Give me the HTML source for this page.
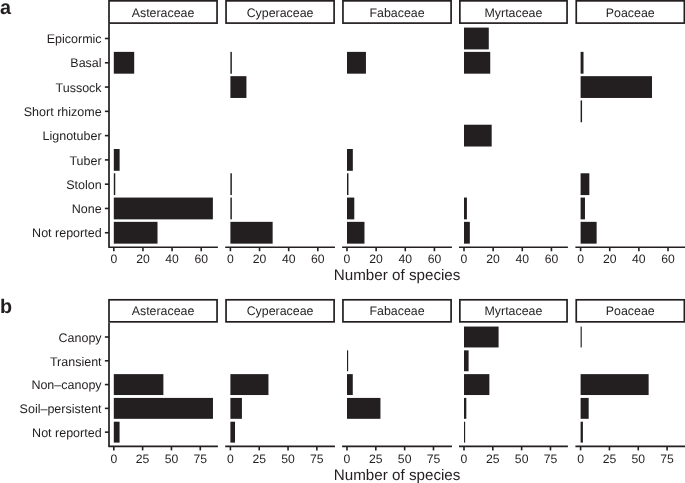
<!DOCTYPE html>
<html><head><meta charset="utf-8"><style>
html,body{margin:0;padding:0;background:#fff;}
svg{display:block;will-change:transform;}
text{font-family:"Liberation Sans",sans-serif;fill:#231f20;text-rendering:geometricPrecision;}
.t{font-size:12.2px;}
.yl{font-size:12.5px;}
.st{font-size:12.4px;}
.tt{font-size:15.2px;}
.lab{font-size:19.8px;font-weight:bold;}
</style></head><body>
<svg width="685" height="483" viewBox="0 0 685 483">
<rect width="685" height="483" fill="#fff"/>
<rect x="109" y="0.85" width="108.05" height="22.25" fill="#fff" stroke="#231f20" stroke-width="1.7"/>
<text x="163.03" y="16.6" text-anchor="middle" class="st">Asteraceae</text>
<rect x="113.8" y="51.88" width="20.4" height="21.8" fill="#231f20"/>
<rect x="113.8" y="149" width="5.83" height="21.8" fill="#231f20"/>
<rect x="113.8" y="173.28" width="1.46" height="21.8" fill="#231f20"/>
<rect x="113.8" y="197.56" width="99.08" height="21.8" fill="#231f20"/>
<rect x="113.8" y="221.84" width="43.71" height="21.8" fill="#231f20"/>
<line x1="113.8" y1="247.25" x2="113.8" y2="251.25" stroke="#231f20" stroke-width="1.6"/>
<text x="113.8" y="263.4" text-anchor="middle" class="t">0</text>
<line x1="142.94" y1="247.25" x2="142.94" y2="251.25" stroke="#231f20" stroke-width="1.6"/>
<text x="142.94" y="263.4" text-anchor="middle" class="t">20</text>
<line x1="172.08" y1="247.25" x2="172.08" y2="251.25" stroke="#231f20" stroke-width="1.6"/>
<text x="172.08" y="263.4" text-anchor="middle" class="t">40</text>
<line x1="201.22" y1="247.25" x2="201.22" y2="251.25" stroke="#231f20" stroke-width="1.6"/>
<text x="201.22" y="263.4" text-anchor="middle" class="t">60</text>
<rect x="226.05" y="0.85" width="108.05" height="22.25" fill="#fff" stroke="#231f20" stroke-width="1.7"/>
<text x="280.07" y="16.6" text-anchor="middle" class="st">Cyperaceae</text>
<rect x="230.4" y="51.88" width="1.46" height="21.8" fill="#231f20"/>
<rect x="230.4" y="76.16" width="16.03" height="21.8" fill="#231f20"/>
<rect x="230.4" y="173.28" width="1.46" height="21.8" fill="#231f20"/>
<rect x="230.4" y="197.56" width="1.46" height="21.8" fill="#231f20"/>
<rect x="230.4" y="221.84" width="42.25" height="21.8" fill="#231f20"/>
<line x1="225.2" y1="247.25" x2="334.95" y2="247.25" stroke="#231f20" stroke-width="1.7"/>
<line x1="230.4" y1="247.25" x2="230.4" y2="251.25" stroke="#231f20" stroke-width="1.6"/>
<text x="230.4" y="263.4" text-anchor="middle" class="t">0</text>
<line x1="259.54" y1="247.25" x2="259.54" y2="251.25" stroke="#231f20" stroke-width="1.6"/>
<text x="259.54" y="263.4" text-anchor="middle" class="t">20</text>
<line x1="288.68" y1="247.25" x2="288.68" y2="251.25" stroke="#231f20" stroke-width="1.6"/>
<text x="288.68" y="263.4" text-anchor="middle" class="t">40</text>
<line x1="317.82" y1="247.25" x2="317.82" y2="251.25" stroke="#231f20" stroke-width="1.6"/>
<text x="317.82" y="263.4" text-anchor="middle" class="t">60</text>
<rect x="342.95" y="0.85" width="108.15" height="22.25" fill="#fff" stroke="#231f20" stroke-width="1.7"/>
<text x="397.02" y="16.6" text-anchor="middle" class="st">Fabaceae</text>
<rect x="347" y="51.88" width="18.94" height="21.8" fill="#231f20"/>
<rect x="347" y="149" width="5.83" height="21.8" fill="#231f20"/>
<rect x="347" y="173.28" width="1.46" height="21.8" fill="#231f20"/>
<rect x="347" y="197.56" width="7.29" height="21.8" fill="#231f20"/>
<rect x="347" y="221.84" width="17.48" height="21.8" fill="#231f20"/>
<line x1="342.1" y1="247.25" x2="451.95" y2="247.25" stroke="#231f20" stroke-width="1.7"/>
<line x1="347" y1="247.25" x2="347" y2="251.25" stroke="#231f20" stroke-width="1.6"/>
<text x="347" y="263.4" text-anchor="middle" class="t">0</text>
<line x1="376.14" y1="247.25" x2="376.14" y2="251.25" stroke="#231f20" stroke-width="1.6"/>
<text x="376.14" y="263.4" text-anchor="middle" class="t">20</text>
<line x1="405.28" y1="247.25" x2="405.28" y2="251.25" stroke="#231f20" stroke-width="1.6"/>
<text x="405.28" y="263.4" text-anchor="middle" class="t">40</text>
<line x1="434.42" y1="247.25" x2="434.42" y2="251.25" stroke="#231f20" stroke-width="1.6"/>
<text x="434.42" y="263.4" text-anchor="middle" class="t">60</text>
<rect x="459.85" y="0.85" width="107.2" height="22.25" fill="#fff" stroke="#231f20" stroke-width="1.7"/>
<text x="513.45" y="16.6" text-anchor="middle" class="st">Myrtaceae</text>
<rect x="464" y="27.6" width="24.77" height="21.8" fill="#231f20"/>
<rect x="464" y="51.88" width="26.23" height="21.8" fill="#231f20"/>
<rect x="464" y="124.72" width="27.68" height="21.8" fill="#231f20"/>
<rect x="464" y="197.56" width="2.91" height="21.8" fill="#231f20"/>
<rect x="464" y="221.84" width="5.83" height="21.8" fill="#231f20"/>
<line x1="459" y1="247.25" x2="567.9" y2="247.25" stroke="#231f20" stroke-width="1.7"/>
<line x1="464" y1="247.25" x2="464" y2="251.25" stroke="#231f20" stroke-width="1.6"/>
<text x="464" y="263.4" text-anchor="middle" class="t">0</text>
<line x1="493.14" y1="247.25" x2="493.14" y2="251.25" stroke="#231f20" stroke-width="1.6"/>
<text x="493.14" y="263.4" text-anchor="middle" class="t">20</text>
<line x1="522.28" y1="247.25" x2="522.28" y2="251.25" stroke="#231f20" stroke-width="1.6"/>
<text x="522.28" y="263.4" text-anchor="middle" class="t">40</text>
<line x1="551.42" y1="247.25" x2="551.42" y2="251.25" stroke="#231f20" stroke-width="1.6"/>
<text x="551.42" y="263.4" text-anchor="middle" class="t">60</text>
<rect x="576.25" y="0.85" width="108.1" height="22.25" fill="#fff" stroke="#231f20" stroke-width="1.7"/>
<text x="630.3" y="16.6" text-anchor="middle" class="st">Poaceae</text>
<rect x="580.6" y="51.88" width="2.91" height="21.8" fill="#231f20"/>
<rect x="580.6" y="76.16" width="71.39" height="21.8" fill="#231f20"/>
<rect x="580.6" y="100.44" width="1.46" height="21.8" fill="#231f20"/>
<rect x="580.6" y="173.28" width="8.74" height="21.8" fill="#231f20"/>
<rect x="580.6" y="197.56" width="4.37" height="21.8" fill="#231f20"/>
<rect x="580.6" y="221.84" width="16.03" height="21.8" fill="#231f20"/>
<line x1="575.4" y1="247.25" x2="685.2" y2="247.25" stroke="#231f20" stroke-width="1.7"/>
<line x1="580.6" y1="247.25" x2="580.6" y2="251.25" stroke="#231f20" stroke-width="1.6"/>
<text x="580.6" y="263.4" text-anchor="middle" class="t">0</text>
<line x1="609.74" y1="247.25" x2="609.74" y2="251.25" stroke="#231f20" stroke-width="1.6"/>
<text x="609.74" y="263.4" text-anchor="middle" class="t">20</text>
<line x1="638.88" y1="247.25" x2="638.88" y2="251.25" stroke="#231f20" stroke-width="1.6"/>
<text x="638.88" y="263.4" text-anchor="middle" class="t">40</text>
<line x1="668.02" y1="247.25" x2="668.02" y2="251.25" stroke="#231f20" stroke-width="1.6"/>
<text x="668.02" y="263.4" text-anchor="middle" class="t">60</text>
<path d="M109 23.95V247.25H217.9" fill="none" stroke="#231f20" stroke-width="1.7" stroke-linejoin="round"/>
<line x1="104.9" y1="38.5" x2="109" y2="38.5" stroke="#231f20" stroke-width="1.6"/>
<text x="101.6" y="43.1" text-anchor="end" class="yl">Epicormic</text>
<line x1="104.9" y1="62.78" x2="109" y2="62.78" stroke="#231f20" stroke-width="1.6"/>
<text x="101.6" y="67.38" text-anchor="end" class="yl">Basal</text>
<line x1="104.9" y1="87.06" x2="109" y2="87.06" stroke="#231f20" stroke-width="1.6"/>
<text x="101.6" y="91.66" text-anchor="end" class="yl">Tussock</text>
<line x1="104.9" y1="111.34" x2="109" y2="111.34" stroke="#231f20" stroke-width="1.6"/>
<text x="101.6" y="115.94" text-anchor="end" class="yl">Short rhizome</text>
<line x1="104.9" y1="135.62" x2="109" y2="135.62" stroke="#231f20" stroke-width="1.6"/>
<text x="101.6" y="140.22" text-anchor="end" class="yl">Lignotuber</text>
<line x1="104.9" y1="159.9" x2="109" y2="159.9" stroke="#231f20" stroke-width="1.6"/>
<text x="101.6" y="164.5" text-anchor="end" class="yl">Tuber</text>
<line x1="104.9" y1="184.18" x2="109" y2="184.18" stroke="#231f20" stroke-width="1.6"/>
<text x="101.6" y="188.78" text-anchor="end" class="yl">Stolon</text>
<line x1="104.9" y1="208.46" x2="109" y2="208.46" stroke="#231f20" stroke-width="1.6"/>
<text x="101.6" y="213.06" text-anchor="end" class="yl">None</text>
<line x1="104.9" y1="232.74" x2="109" y2="232.74" stroke="#231f20" stroke-width="1.6"/>
<text x="101.6" y="237.34" text-anchor="end" class="yl">Not reported</text>
<text x="397.1" y="280.2" text-anchor="middle" class="tt">Number of species</text>
<text x="0" y="13.7" class="lab">a</text>
<rect x="109" y="299.8" width="108.05" height="22.05" fill="#fff" stroke="#231f20" stroke-width="1.7"/>
<text x="163.03" y="315" text-anchor="middle" class="st">Asteraceae</text>
<rect x="113.8" y="374.13" width="49.58" height="20.9" fill="#231f20"/>
<rect x="113.8" y="397.92" width="99.16" height="20.9" fill="#231f20"/>
<rect x="113.8" y="421.71" width="5.77" height="20.9" fill="#231f20"/>
<line x1="113.8" y1="446.4" x2="113.8" y2="450.4" stroke="#231f20" stroke-width="1.6"/>
<text x="113.8" y="462.5" text-anchor="middle" class="t">0</text>
<line x1="142.62" y1="446.4" x2="142.62" y2="450.4" stroke="#231f20" stroke-width="1.6"/>
<text x="142.62" y="462.5" text-anchor="middle" class="t">25</text>
<line x1="171.45" y1="446.4" x2="171.45" y2="450.4" stroke="#231f20" stroke-width="1.6"/>
<text x="171.45" y="462.5" text-anchor="middle" class="t">50</text>
<line x1="200.28" y1="446.4" x2="200.28" y2="450.4" stroke="#231f20" stroke-width="1.6"/>
<text x="200.28" y="462.5" text-anchor="middle" class="t">75</text>
<rect x="226.05" y="299.8" width="108.05" height="22.05" fill="#fff" stroke="#231f20" stroke-width="1.7"/>
<text x="280.07" y="315" text-anchor="middle" class="st">Cyperaceae</text>
<rect x="230.4" y="374.13" width="38.05" height="20.9" fill="#231f20"/>
<rect x="230.4" y="397.92" width="11.53" height="20.9" fill="#231f20"/>
<rect x="230.4" y="421.71" width="4.61" height="20.9" fill="#231f20"/>
<line x1="225.2" y1="446.4" x2="334.95" y2="446.4" stroke="#231f20" stroke-width="1.7"/>
<line x1="230.4" y1="446.4" x2="230.4" y2="450.4" stroke="#231f20" stroke-width="1.6"/>
<text x="230.4" y="462.5" text-anchor="middle" class="t">0</text>
<line x1="259.23" y1="446.4" x2="259.23" y2="450.4" stroke="#231f20" stroke-width="1.6"/>
<text x="259.23" y="462.5" text-anchor="middle" class="t">25</text>
<line x1="288.05" y1="446.4" x2="288.05" y2="450.4" stroke="#231f20" stroke-width="1.6"/>
<text x="288.05" y="462.5" text-anchor="middle" class="t">50</text>
<line x1="316.88" y1="446.4" x2="316.88" y2="450.4" stroke="#231f20" stroke-width="1.6"/>
<text x="316.88" y="462.5" text-anchor="middle" class="t">75</text>
<rect x="342.95" y="299.8" width="108.15" height="22.05" fill="#fff" stroke="#231f20" stroke-width="1.7"/>
<text x="397.02" y="315" text-anchor="middle" class="st">Fabaceae</text>
<rect x="347" y="350.34" width="1.15" height="20.9" fill="#231f20"/>
<rect x="347" y="374.13" width="5.77" height="20.9" fill="#231f20"/>
<rect x="347" y="397.92" width="33.44" height="20.9" fill="#231f20"/>
<line x1="342.1" y1="446.4" x2="451.95" y2="446.4" stroke="#231f20" stroke-width="1.7"/>
<line x1="347" y1="446.4" x2="347" y2="450.4" stroke="#231f20" stroke-width="1.6"/>
<text x="347" y="462.5" text-anchor="middle" class="t">0</text>
<line x1="375.82" y1="446.4" x2="375.82" y2="450.4" stroke="#231f20" stroke-width="1.6"/>
<text x="375.82" y="462.5" text-anchor="middle" class="t">25</text>
<line x1="404.65" y1="446.4" x2="404.65" y2="450.4" stroke="#231f20" stroke-width="1.6"/>
<text x="404.65" y="462.5" text-anchor="middle" class="t">50</text>
<line x1="433.48" y1="446.4" x2="433.48" y2="450.4" stroke="#231f20" stroke-width="1.6"/>
<text x="433.48" y="462.5" text-anchor="middle" class="t">75</text>
<rect x="459.85" y="299.8" width="107.2" height="22.05" fill="#fff" stroke="#231f20" stroke-width="1.7"/>
<text x="513.45" y="315" text-anchor="middle" class="st">Myrtaceae</text>
<rect x="464" y="326.55" width="34.59" height="20.9" fill="#231f20"/>
<rect x="464" y="350.34" width="4.61" height="20.9" fill="#231f20"/>
<rect x="464" y="374.13" width="25.37" height="20.9" fill="#231f20"/>
<rect x="464" y="397.92" width="2.31" height="20.9" fill="#231f20"/>
<rect x="464" y="421.71" width="1.15" height="20.9" fill="#231f20"/>
<line x1="459" y1="446.4" x2="567.9" y2="446.4" stroke="#231f20" stroke-width="1.7"/>
<line x1="464" y1="446.4" x2="464" y2="450.4" stroke="#231f20" stroke-width="1.6"/>
<text x="464" y="462.5" text-anchor="middle" class="t">0</text>
<line x1="492.82" y1="446.4" x2="492.82" y2="450.4" stroke="#231f20" stroke-width="1.6"/>
<text x="492.82" y="462.5" text-anchor="middle" class="t">25</text>
<line x1="521.65" y1="446.4" x2="521.65" y2="450.4" stroke="#231f20" stroke-width="1.6"/>
<text x="521.65" y="462.5" text-anchor="middle" class="t">50</text>
<line x1="550.48" y1="446.4" x2="550.48" y2="450.4" stroke="#231f20" stroke-width="1.6"/>
<text x="550.48" y="462.5" text-anchor="middle" class="t">75</text>
<rect x="576.25" y="299.8" width="108.1" height="22.05" fill="#fff" stroke="#231f20" stroke-width="1.7"/>
<text x="630.3" y="315" text-anchor="middle" class="st">Poaceae</text>
<rect x="580.6" y="326.55" width="1.15" height="20.9" fill="#231f20"/>
<rect x="580.6" y="374.13" width="68.03" height="20.9" fill="#231f20"/>
<rect x="580.6" y="397.92" width="8.07" height="20.9" fill="#231f20"/>
<rect x="580.6" y="421.71" width="2.31" height="20.9" fill="#231f20"/>
<line x1="575.4" y1="446.4" x2="685.2" y2="446.4" stroke="#231f20" stroke-width="1.7"/>
<line x1="580.6" y1="446.4" x2="580.6" y2="450.4" stroke="#231f20" stroke-width="1.6"/>
<text x="580.6" y="462.5" text-anchor="middle" class="t">0</text>
<line x1="609.43" y1="446.4" x2="609.43" y2="450.4" stroke="#231f20" stroke-width="1.6"/>
<text x="609.43" y="462.5" text-anchor="middle" class="t">25</text>
<line x1="638.25" y1="446.4" x2="638.25" y2="450.4" stroke="#231f20" stroke-width="1.6"/>
<text x="638.25" y="462.5" text-anchor="middle" class="t">50</text>
<line x1="667.08" y1="446.4" x2="667.08" y2="450.4" stroke="#231f20" stroke-width="1.6"/>
<text x="667.08" y="462.5" text-anchor="middle" class="t">75</text>
<path d="M109 322.7V446.4H217.9" fill="none" stroke="#231f20" stroke-width="1.7" stroke-linejoin="round"/>
<line x1="104.9" y1="337" x2="109" y2="337" stroke="#231f20" stroke-width="1.6"/>
<text x="101.6" y="341.8" text-anchor="end" class="yl">Canopy</text>
<line x1="104.9" y1="360.79" x2="109" y2="360.79" stroke="#231f20" stroke-width="1.6"/>
<text x="101.6" y="365.59" text-anchor="end" class="yl">Transient</text>
<line x1="104.9" y1="384.58" x2="109" y2="384.58" stroke="#231f20" stroke-width="1.6"/>
<text x="101.6" y="389.38" text-anchor="end" class="yl">Non–canopy</text>
<line x1="104.9" y1="408.37" x2="109" y2="408.37" stroke="#231f20" stroke-width="1.6"/>
<text x="101.6" y="413.17" text-anchor="end" class="yl">Soil–persistent</text>
<line x1="104.9" y1="432.16" x2="109" y2="432.16" stroke="#231f20" stroke-width="1.6"/>
<text x="101.6" y="436.96" text-anchor="end" class="yl">Not reported</text>
<text x="397.1" y="479.8" text-anchor="middle" class="tt">Number of species</text>
<text x="0" y="312.5" class="lab">b</text>
</svg>
</body></html>
